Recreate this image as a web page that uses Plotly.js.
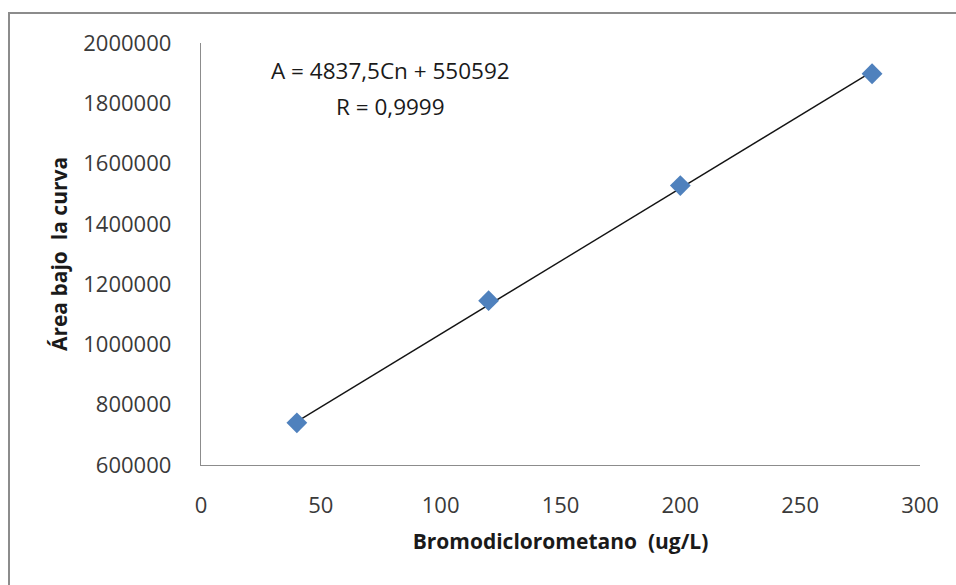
<!DOCTYPE html>
<html>
<head>
<meta charset="utf-8">
<script src="https://cdn.plot.ly/plotly-3.0.1.min.js"></script>
<style>html,body{margin:0;padding:0;background:#fff;}#chart{width:956px;height:585px;}</style>
</head>
<body>
<div id="chart"></div>
<script>
// Data
const concentracion = [40, 120, 200, 280];
const area = [740000, 1145000, 1527000, 1898000];
const trendX = [40, 280];
const trendY = [744000, 1905000];
const ecuacion = "A = 4837,5Cn + 550592";
const coefR = "R = 0,9999";
const xTicks = [0, 50, 100, 150, 200, 250, 300];
const yTicks = [600000, 800000, 1000000, 1200000, 1400000, 1600000, 1800000, 2000000];

const FONT = "Open Sans";
const traces = [
  {x: trendX, y: trendY, mode: 'lines', type: 'scatter',
   line: {color: '#141414', width: 1.4}, hoverinfo: 'skip'},
  {x: concentracion, y: area, mode: 'markers', type: 'scatter',
   marker: {symbol: 'diamond', size: 16, color: '#4F81BD'}}
];

const layout = {
  width: 956, height: 585,
  showlegend: false,
  paper_bgcolor: '#fff', plot_bgcolor: '#fff',
  margin: {l: 201, r: 36, t: 43, b: 120},
  font: {family: FONT, size: 22, color: '#404040'},
  xaxis: {
    range: [0, 300], tickvals: xTicks, ticktext: xTicks.map(String),
    showgrid: false, zeroline: false, showline: true, linecolor: '#8c8c8c', linewidth: 1.3,
    ticks: '', ticklabelstandoff: 20,
    tickfont: {family: FONT, size: 22, color: '#3a3a3a'},
    title: {text: 'Bromodiclorometano  (ug/L)', font: {family: FONT, size: 21, color: '#1a1a1a', weight: 'bold'}, standoff: 16}
  },
  yaxis: {
    range: [600000, 2000000], tickvals: yTicks, ticktext: yTicks.map(String),
    showgrid: false, zeroline: false, showline: true, linecolor: '#8c8c8c', linewidth: 1.3,
    ticks: '', ticklabelstandoff: 24,
    tickfont: {family: FONT, size: 22, color: '#3a3a3a'},
    title: {text: 'Área bajo  la curva', font: {family: FONT, size: 21, color: '#1a1a1a', weight: 'bold'}, standoff: 10}
  },
  annotations: [
    {xref: 'paper', yref: 'paper', x: (390-201)/719, y: (465-70)/422, text: ecuacion, showarrow: false,
     font: {family: FONT, size: 22.5, color: '#1a1a1a'}, xanchor: 'center', yanchor: 'middle'},
    {xref: 'paper', yref: 'paper', x: (390-201)/719, y: (465-106)/422, text: coefR, showarrow: false,
     font: {family: FONT, size: 22.5, color: '#1a1a1a'}, xanchor: 'center', yanchor: 'middle'}
  ],
  shapes: [
    {type: 'rect', xref: 'paper', yref: 'paper',
     x0: (9-201)/719, x1: (970-201)/719, y0: (465-600)/422, y1: (465-13)/422,
     line: {color: '#8c8c8c', width: 2}, fillcolor: 'rgba(0,0,0,0)', layer: 'below'}
  ]
};
Plotly.newPlot('chart', traces, layout, {displayModeBar: false, staticPlot: true});
</script>
</body>
</html>
